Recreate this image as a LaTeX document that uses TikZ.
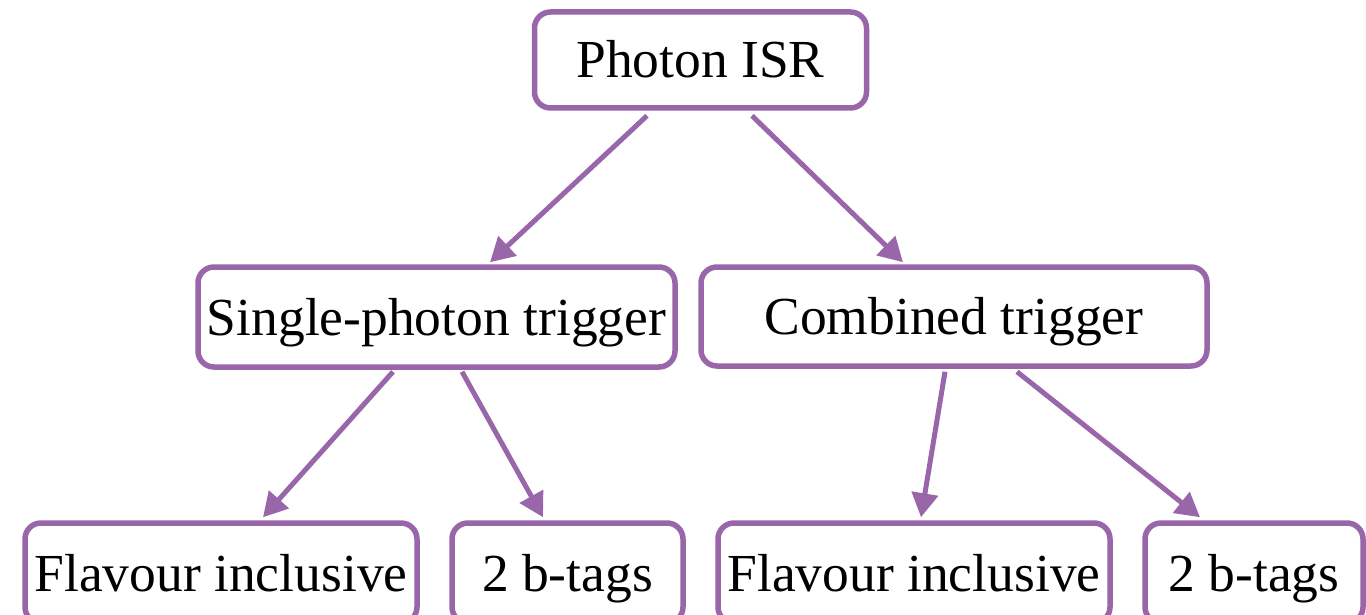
\documentclass[tikz,border=0pt]{standalone}
\usepackage{fontspec}
\setmainfont{Liberation Serif}
\usetikzlibrary{arrows.meta,calc}
\definecolor{boxpurple}{RGB}{153,102,170}
\begin{document}
\begin{tikzpicture}[x=1pt,y=-1pt,
  box/.style={draw=boxpurple, line width=5.5pt, rounded corners=16pt, fill=white,
    inner sep=0pt, text height=48pt, text depth=12pt,
    font=\fontsize{53.5}{60}\selectfont},
  arr/.style={draw=boxpurple, line width=5pt,
    -{Triangle[length=24pt,width=26pt]}}]
\useasboundingbox (0,0) rectangle (1366,615);
\clip (0,0) rectangle (1366,615);

% tree of trigger selections
\node[box, minimum width=332pt, minimum height=96pt]  (isr)    at (700.5,60)  {Photon ISR};
\node[box, minimum width=477pt, minimum height=100pt] (single) at (436.5,317) {Single-photon trigger};
\node[box, minimum width=506pt, minimum height=99pt]  (comb)   at (954,316.5) {Combined trigger};
\node[box, minimum width=392pt, minimum height=100pt] (fl1)    at (221,573)   {Flavour inclusive};
\node[box, minimum width=231pt, minimum height=100pt] (bt1)    at (567.5,573) {2 b-tags};
\node[box, minimum width=392pt, minimum height=100pt] (fl2)    at (914,573)   {Flavour inclusive};
\node[box, minimum width=218pt, minimum height=100pt] (bt2)    at (1254,573)  {2 b-tags};

% connectors
\draw[arr] ($(isr.south)+(-53.5,5)$)   -- ($(single.north)+(53.5,-2)$);
\draw[arr] ($(isr.south)+(51.5,5)$)    -- ($(comb.north)+(-51,-2)$);
\draw[arr] ($(single.south)+(-43.5,2)$) -- ($(fl1.north)+(42,-3)$);
\draw[arr] ($(single.south)+(25.5,2)$)  -- ($(bt1.north)+(-24.5,-3)$);
\draw[arr] ($(comb.south)+(-9,3)$)      -- ($(fl2.north)+(7,-3)$);
\draw[arr] ($(comb.south)+(63,3)$)      -- ($(bt2.north)+(-54,-3)$);
\end{tikzpicture}
\end{document}
